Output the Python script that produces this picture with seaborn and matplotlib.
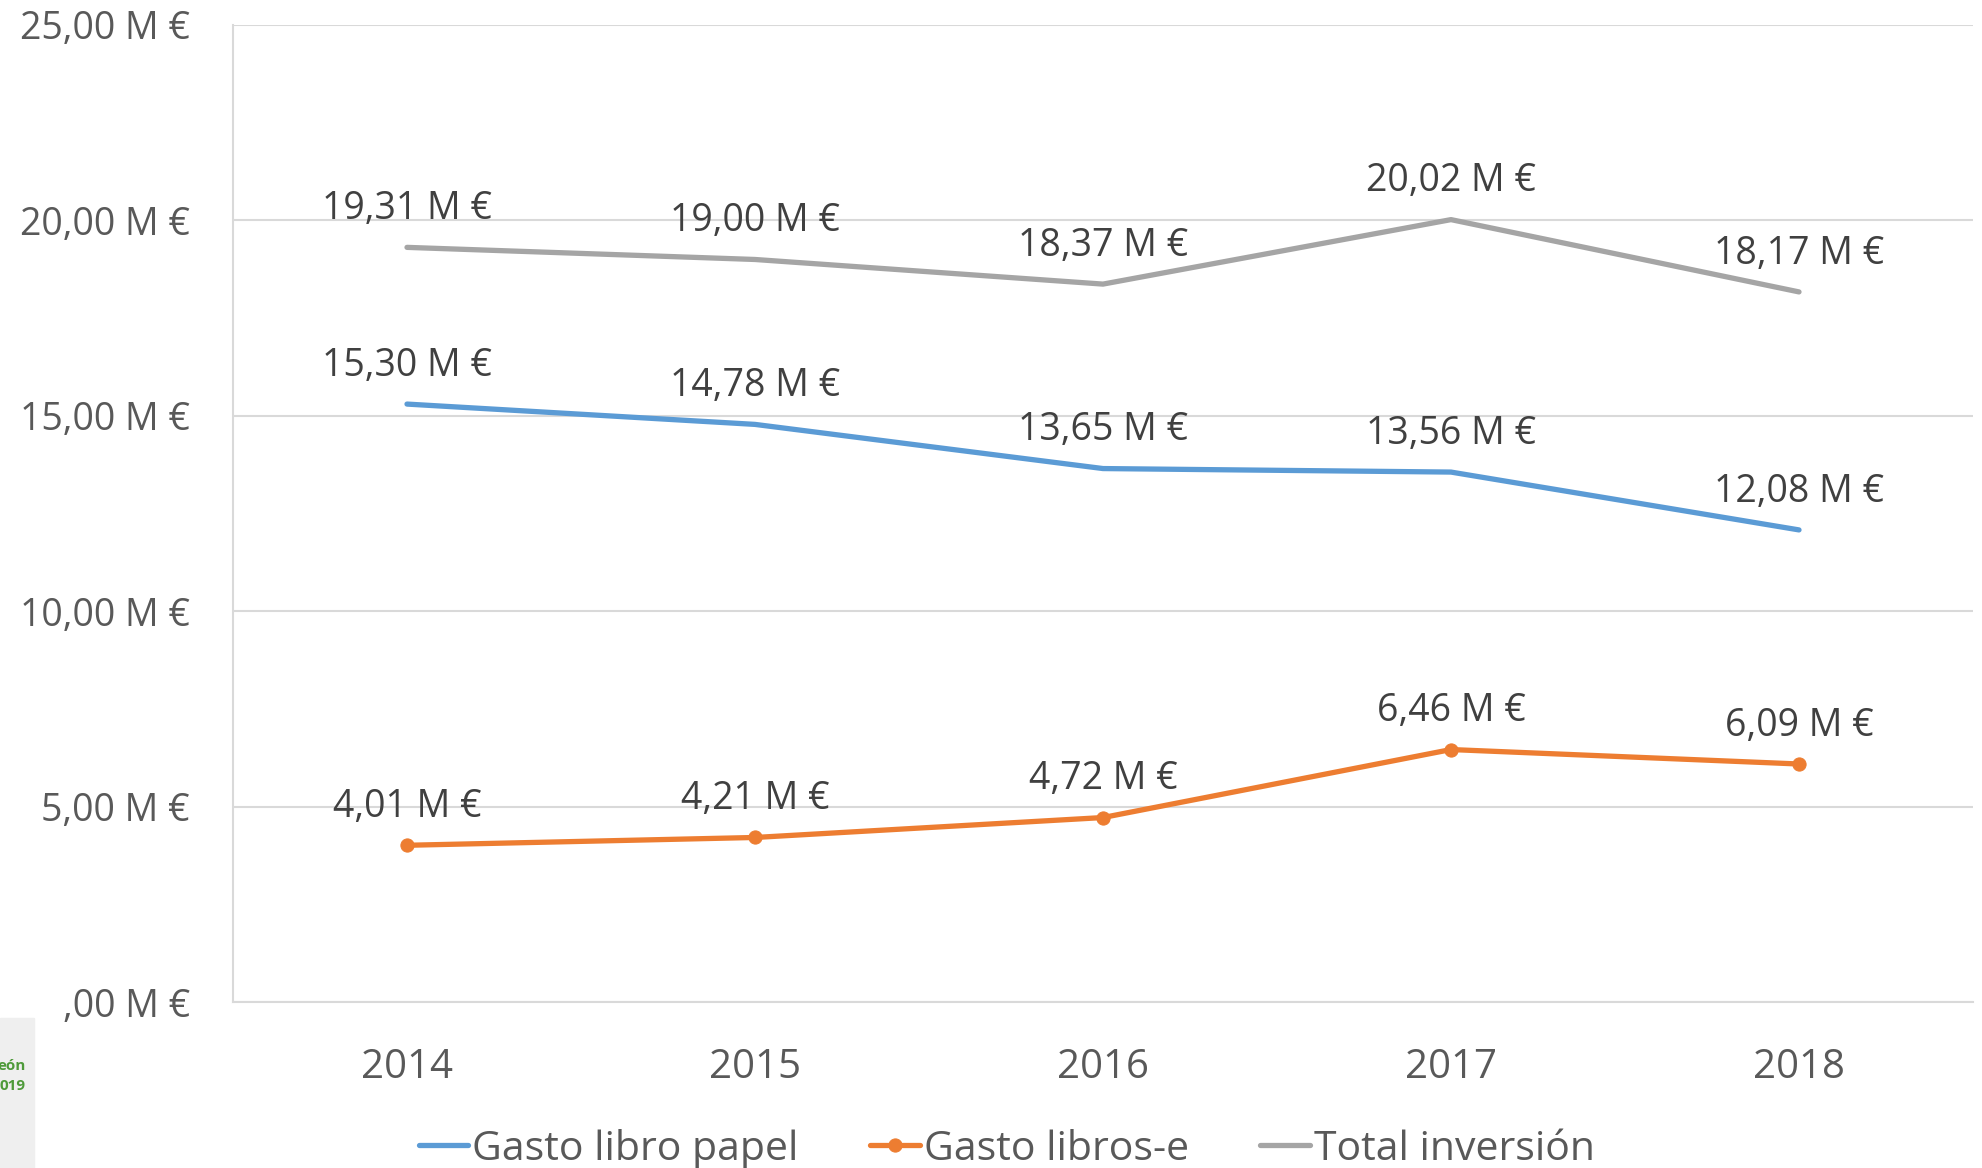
import matplotlib.pyplot as plt
import pandas as pd
import seaborn as sns

# data (millions of euros)
years = ["2014", "2015", "2016", "2017", "2018"]
papel = [15.30, 14.78, 13.65, 13.56, 12.08]
libros_e = [4.01, 4.21, 4.72, 6.46, 6.09]
total = [19.31, 19.00, 18.37, 20.02, 18.17]

series_names = ["Gasto libro papel", "Gasto libros-e", "Total inversión"]
colors = ["#5B9BD5", "#ED7D31", "#A5A5A5"]

df = pd.DataFrame({
    "Año": years * 3,
    "Serie": [series_names[0]] * 5 + [series_names[1]] * 5 + [series_names[2]] * 5,
    "Valor": papel + libros_e + total,
})


def eur(v):
    s = f"{v:.2f}".replace(".", ",")
    if s.startswith("0,"):
        s = s[1:]
    return s + " M €"


sns.set_theme(style="white")
plt.rcParams["font.family"] = ["Open Sans", "DejaVu Sans"]
text_col = "#595959"

fig = plt.figure(figsize=(19.82, 11.68), dpi=100)
ax = fig.add_axes([233 / 1982, 1 - 1002 / 1168, 1740 / 1982, 977 / 1168])

for name, col in zip(series_names, colors):
    sub = df[df["Serie"] == name]
    has_marker = name == "Gasto libros-e"
    sns.lineplot(
        data=sub, x="Año", y="Valor", ax=ax, color=col, linewidth=3.8,
        marker="o" if has_marker else None, markersize=9.5,
        markeredgecolor=col, label=name, sort=False,
    )
    for i, v in enumerate(sub["Valor"]):
        ax.annotate(eur(v), (i, v), xytext=(0, 27.5), textcoords="offset points",
                    ha="center", va="center", fontsize=27, color="#404040")

ax.set_xlim(-0.5, 4.5)
ax.set_ylim(0, 25)
ax.set_yticks([0, 5, 10, 15, 20, 25])
ax.set_yticklabels([eur(t) for t in [0, 5, 10, 15, 20, 25]])
ax.set_xlabel("")
ax.set_ylabel("")
ax.grid(axis="y", color="#D9D9D9", linewidth=1.5)
ax.set_axisbelow(True)
for side in ["top", "right"]:
    ax.spines[side].set_visible(False)
for side in ["left", "bottom"]:
    ax.spines[side].set_color("#D9D9D9")
    ax.spines[side].set_linewidth(1.5)
ax.tick_params(axis="y", length=0, pad=31, labelsize=27, labelcolor=text_col)
ax.tick_params(axis="x", length=0, pad=33, labelsize=29, labelcolor=text_col)

handles, labels = ax.get_legend_handles_labels()
ax.get_legend().remove()
fig.legend(handles, labels, loc="center", bbox_to_anchor=(0.508, 1 - 1149 / 1168),
           ncol=3, frameon=False, fontsize=29.5, handlelength=1.2, handletextpad=0.1,
           columnspacing=1.75, labelcolor=text_col)

# fragment of a logo at the lower left edge
fig.patches.append(plt.Rectangle((0, 0), 34 / 1982, 150 / 1168, transform=fig.transFigure,
                                 color="#EFEFEF", zorder=0))
fig.text(26 / 1982, 1 - 1066 / 1168, "eón", ha="right", va="center", fontsize=11,
         color="#4E9A3A", fontweight="bold")
fig.text(26 / 1982, 1 - 1086 / 1168, "019", ha="right", va="center", fontsize=11,
         color="#4E9A3A", fontweight="bold")

fig.savefig("out.png", dpi=100)
